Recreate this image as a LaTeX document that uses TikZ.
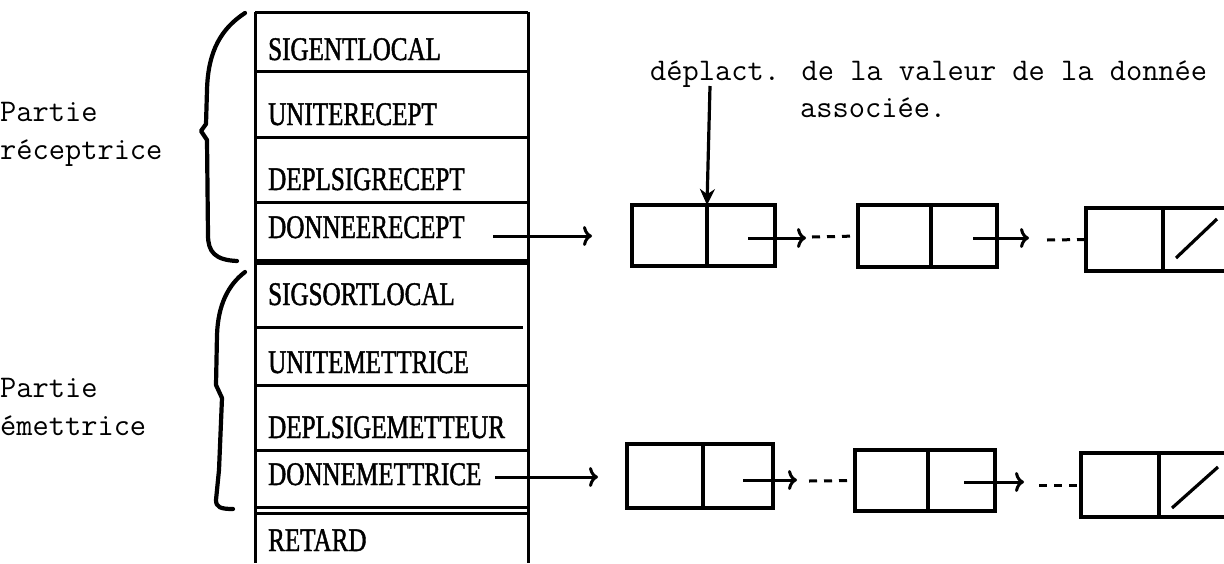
\documentclass[tikz,border=0pt]{standalone}
\usepackage{fontspec}
\newfontfamily\tabfont[FakeStretch=0.76,FakeBold=1.3]{Liberation Serif}
\usetikzlibrary{arrows.meta}
\begin{document}
\begin{tikzpicture}[x=1pt,y=-1pt,
  tt/.style={font=\fontsize{31.5}{37}\selectfont\ttfamily\addfontfeature{FakeBold=1.4}, inner sep=0, anchor=base west},
  field/.style={font=\tabfont\fontsize{33}{38}\selectfont, inner sep=0, anchor=base west},
  cell/.style={draw, line width=3.2pt, inner sep=0, outer sep=0, anchor=north west},
  grid/.style={line width=3pt},
  arr/.style={line width=3pt, -{To[length=9pt,width=20pt]}},
  link/.style={line width=3pt, dash pattern=on 8pt off 7pt},
  brace/.style={line width=4.2pt, line cap=round, line join=round}]
\useasboundingbox (0,0) rectangle (1224,563);
\clip (0,0) rectangle (1224,563);
\fill[white] (0,0) rectangle (1224,563);

% left labels
\node[tt] (pr1) at (0,121) {Partie};
\node[tt] (pr2) at (0,159) {réceptrice};
\node[tt] (pe1) at (0,397) {Partie};
\node[tt] (pe2) at (0,435) {émettrice};

% braces
\draw[brace] (245,13) .. controls (222,28) and (208,50) .. (207,90)
  -- (206,124) -- (201,131) -- (207,140) -- (208,235)
  .. controls (208,252) and (215,260) .. (237,261);
\draw[brace] (245,272) .. controls (228,285) and (218,305) .. (217,335)
  -- (216,385) -- (222,398) -- (219,470) -- (216,500)
  .. controls (216,507) and (220,509) .. (233,509);

% table
\draw[grid] (255,12) -- (255,563);
\draw[grid] (528,12) -- (528,563);
\draw[grid] (255,12) -- (528,12);
\draw[grid] (255,71) -- (528,71);
\draw[grid] (255,137) -- (528,137);
\draw[grid] (255,202) -- (528,202);
\draw[line width=5.5pt] (255,262) -- (528,262);
\draw[grid] (255,327) -- (523,327);
\draw[grid] (255,385) -- (528,385);
\draw[grid] (255,450) -- (528,450);
\draw[grid] (255,507) -- (528,507);
\draw[grid] (255,513) -- (528,513);

\node[field] (f1) at (268,60) {SIGENTLOCAL};
\node[field] (f2) at (268,125) {UNITERECEPT};
\node[field] (f3) at (268,190) {DEPLSIGRECEPT};
\node[field] (f4) at (268,238) {DONNEERECEPT};
\node[field] (f5) at (268,305) {SIGSORTLOCAL};
\node[field] (f6) at (268,373) {UNITEMETTRICE};
\node[field] (f7) at (268,438) {DEPLSIGEMETTEUR};
\node[field] (f8) at (268,485) {DONNEMETTRICE};
\node[field] (f9) at (268,551) {RETARD};

% annotation
\node[tt] (ann1) at (650,80) {déplact. de la valeur de la donnée};
\node[tt] (ann2) at (800,117) {associée.};

% list cells, row 1
\node[cell, minimum width=75pt, minimum height=61pt] (c11) at (632,205) {};
\node[cell, minimum width=68pt, minimum height=61pt] (c12) at (707,205) {};
\node[cell, minimum width=73pt, minimum height=62pt] (c21) at (858,205) {};
\node[cell, minimum width=66pt, minimum height=62pt] (c22) at (931,205) {};
\node[cell, minimum width=77pt, minimum height=63pt] (c31) at (1086,208) {};
\node[cell, minimum width=70pt, minimum height=63pt] (c32) at (1163,208) {};
\draw[line width=3.2pt] (1176,258) -- (1217,219);

% list cells, row 2
\node[cell, minimum width=76pt, minimum height=64pt] (d11) at (627,444) {};
\node[cell, minimum width=70pt, minimum height=64pt] (d12) at (703,444) {};
\node[cell, minimum width=73pt, minimum height=61pt] (d21) at (855,450) {};
\node[cell, minimum width=67pt, minimum height=61pt] (d22) at (928,450) {};
\node[cell, minimum width=78pt, minimum height=64pt] (d31) at (1081,453) {};
\node[cell, minimum width=72pt, minimum height=64pt] (d32) at (1159,453) {};
\draw[line width=3.2pt] (1172,508) -- (1218,467);

% connector coordinates
\coordinate (a1) at (493,236);
\coordinate (a1e) at (592,236);
\coordinate (a2) at (495,477);
\coordinate (a2e) at (598,477);
\coordinate (ptr) at (710,86);
\coordinate (p11) at (748,238);
\coordinate (p11e) at (806,238);
\coordinate (l11) at (812,237);
\coordinate (p12) at (973,238);
\coordinate (p12e) at (1029,238);
\coordinate (l12) at (1047,240);
\coordinate (p21) at (743,480);
\coordinate (p21e) at (797,480);
\coordinate (l21) at (809,481);
\coordinate (p22) at (964,482);
\coordinate (p22e) at (1024,482);
\coordinate (l22) at (1039,485);

\draw[arr] (a1) -- (a1e);
\draw[arr] (a2) -- (a2e);
\draw[line width=3.2pt, -{Stealth[length=16pt,width=15pt]}] (ptr) -- (c12.north west);
\draw[arr] (p11) -- (p11e);
\draw[link] (l11) -- (c21.west);
\draw[arr] (p12) -- (p12e);
\draw[link] (l12) -- (c31.west);
\draw[arr] (p21) -- (p21e);
\draw[link] (l21) -- (d21.west);
\draw[arr] (p22) -- (p22e);
\draw[link] (l22) -- (d31.west);
\end{tikzpicture}
\end{document}
